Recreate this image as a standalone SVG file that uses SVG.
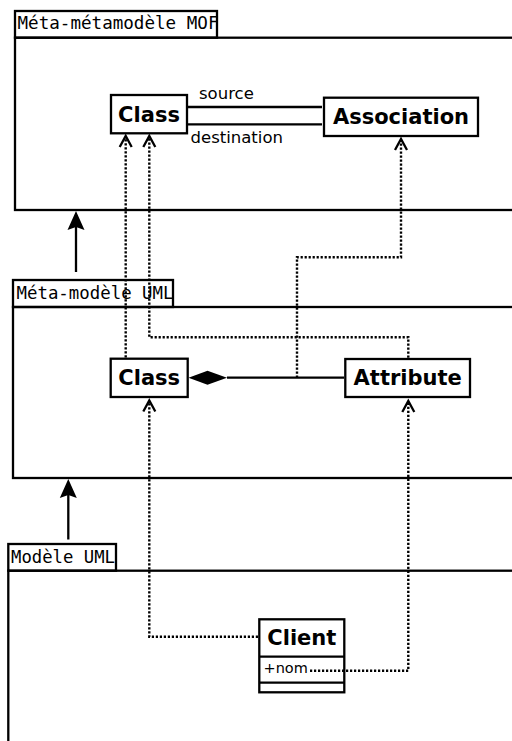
<svg xmlns="http://www.w3.org/2000/svg" width="512" height="741" viewBox="0 0 512 741">
  <style>
    .pkg { fill: none; stroke: #000; stroke-width: 2.3; }
    .box { fill: #fff; stroke: #000; stroke-width: 2.3; }
    .tab { font-family: "DejaVu Sans Mono", "Liberation Mono", monospace; font-size: 17px; fill: #000; }
    .cls { font-family: "DejaVu Sans", "Liberation Sans", sans-serif; font-size: 21px; font-weight: bold; fill: #000; text-anchor: middle; }
    .role { font-family: "DejaVu Sans", "Liberation Sans", sans-serif; font-size: 16.5px; fill: #000; }
    .attr { font-family: "DejaVu Sans", "Liberation Sans", sans-serif; font-size: 14.5px; fill: #000; }
    .solid { fill: none; stroke: #000; stroke-width: 2.3; }
    .dot { fill: none; stroke: #000; stroke-width: 2.4; stroke-dasharray: 2.2 1.8; }
    .open { fill: none; stroke: #000; stroke-width: 2.3; }
  </style>

  <rect width="512" height="741" fill="#fff"/>

  <!-- packages -->
  <g id="pkg-mof">
    <rect class="pkg" x="15" y="11" width="202" height="26.7"/>
    <rect class="pkg" x="15" y="37.7" width="520" height="172.3"/>
    <text class="tab" x="17.5" y="29" textLength="201" lengthAdjust="spacingAndGlyphs">Méta-métamodèle MOF</text>
  </g>
  <g id="pkg-uml-meta">
    <rect class="pkg" x="13" y="280" width="160" height="27"/>
    <rect class="pkg" x="13" y="307" width="520" height="171"/>
    <text class="tab" x="16.5" y="298.7" textLength="157" lengthAdjust="spacingAndGlyphs">Méta-modèle UML</text>
  </g>
  <g id="pkg-uml-model">
    <rect class="pkg" x="8.3" y="544" width="107.7" height="26.7"/>
    <rect class="pkg" x="8.3" y="570.7" width="520" height="200"/>
    <text class="tab" x="11" y="562.7" textLength="104" lengthAdjust="spacingAndGlyphs">Modèle UML</text>
  </g>

  <!-- classes -->
  <g id="mof-class">
    <rect class="box" x="111" y="95" width="76" height="38.3"/>
    <text class="cls" x="149" y="122">Class</text>
  </g>
  <g id="mof-association">
    <rect class="box" x="324" y="97.7" width="154" height="38.3"/>
    <text class="cls" x="401" y="123.5">Association</text>
  </g>
  <g id="uml-class">
    <rect class="box" x="110.7" y="358.7" width="77" height="38.3"/>
    <text class="cls" x="149.2" y="385">Class</text>
  </g>
  <g id="uml-attribute">
    <rect class="box" x="345.3" y="359" width="124.7" height="38"/>
    <text class="cls" x="407.7" y="384.5">Attribute</text>
  </g>
  <g id="client">
    <rect class="box" x="259.3" y="619.3" width="85" height="73"/>
    <line class="solid" x1="259.3" y1="656.7" x2="344.3" y2="656.7"/>
    <line class="solid" x1="259.3" y1="682.7" x2="344.3" y2="682.7"/>
    <text class="cls" x="301.8" y="645">Client</text>
    <text class="attr" x="263.5" y="673.3">+nom</text>
  </g>

  <!-- connectors -->
  <g id="connectors">
    <!-- source / destination associations -->
    <line class="solid" x1="188" y1="107" x2="322" y2="107"/>
    <line class="solid" x1="188" y1="124.3" x2="322" y2="124.3"/>
    <text class="role" x="199" y="98.5">source</text>
    <text class="role" x="190.5" y="142.5">destination</text>

    <!-- package dependencies -->
    <line class="solid" x1="76" y1="272" x2="76" y2="226"/>
    <path d="M76 211 L84.5 230 L76 227 L67.5 230 Z" fill="#000"/>
    <line class="solid" x1="68.3" y1="539.5" x2="68.3" y2="494"/>
    <path d="M68.3 479 L76.8 498 L68.3 495 L59.8 498 Z" fill="#000"/>

    <!-- composition Attribute -> Class -->
    <line class="solid" x1="227" y1="377.7" x2="344" y2="377.7"/>
    <path d="M188.5 377.7 L207.5 370.7 L227 377.7 L207.5 384.7 Z" fill="#000"/>

    <!-- instance-of links -->
    <polyline class="dot" points="125.7,357.5 125.7,137"/>
    <path class="open" d="M119.7 147 L125.7 136 L131.7 147"/>

    <polyline class="dot" points="408.3,357.8 408.3,337.3 149.3,337.3 149.3,137"/>
    <path class="open" d="M143.3 147 L149.3 136 L155.3 147"/>

    <polyline class="dot" points="297,377.7 297,257.3 401,257.3 401,140"/>
    <path class="open" d="M395 150 L401 139 L407 150"/>

    <polyline class="dot" points="258,636.7 149.3,636.7 149.3,401"/>
    <path class="open" d="M143.3 411.5 L149.3 400.5 L155.3 411.5"/>

    <polyline class="dot" points="310,670.7 408.3,670.7 408.3,402"/>
    <path class="open" d="M402.3 412 L408.3 401 L414.3 412"/>
  </g>
</svg>
